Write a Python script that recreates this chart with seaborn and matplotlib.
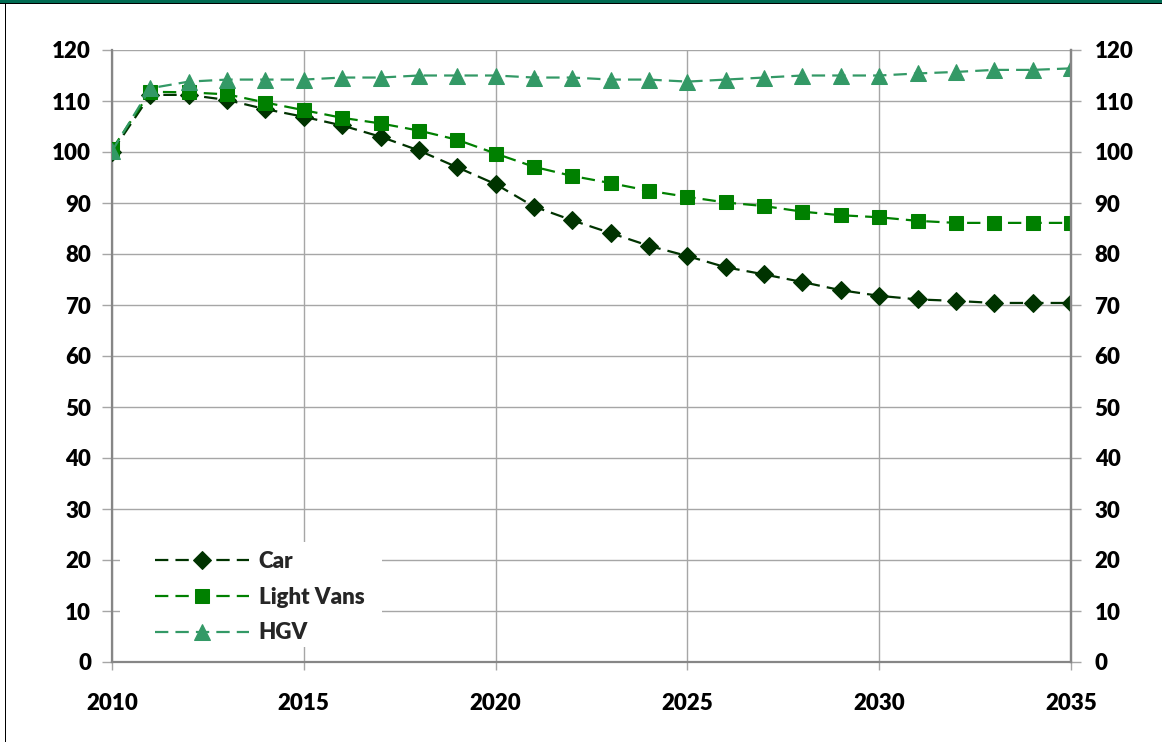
import matplotlib
matplotlib.use("Agg")
import matplotlib.pyplot as plt
from matplotlib.patches import Rectangle
import seaborn as sns
import pandas as pd

# Index values (2010 = 100) by vehicle type
years = list(range(2010, 2036))
car = [100.0, 111.2, 111.2, 110.2, 108.4, 106.9, 105.2, 103.0, 100.3, 97.0,
       93.7, 89.3, 86.6, 84.1, 81.6, 79.6, 77.4, 76.0, 74.5, 72.9,
       71.8, 71.1, 70.8, 70.4, 70.4, 70.4]
light_vans = [100.5, 111.8, 111.7, 111.3, 109.7, 108.2, 106.7, 105.6, 104.2, 102.4,
              99.7, 97.1, 95.3, 93.9, 92.4, 91.2, 90.1, 89.4, 88.3, 87.6,
              87.2, 86.5, 86.1, 86.1, 86.1, 86.1]
hgv = [100.2, 112.5, 113.8, 114.2, 114.2, 114.2, 114.6, 114.6, 115.0, 115.0,
       115.0, 114.6, 114.6, 114.2, 114.2, 113.8, 114.2, 114.6, 115.0, 115.0,
       115.0, 115.4, 115.7, 116.1, 116.1, 116.4]

series_names = ["Car", "Light Vans", "HGV"]
series_values = [car, light_vans, hgv]
series_colors = ["#003300", "#008000", "#339966"]
series_markers = ["D", "s", "^"]
series_msize = [9.5, 10.5, 11.5]

y_ticks = list(range(0, 121, 10))
x_ticks = list(range(2010, 2036, 5))

sns.set_theme(style="white")
plt.rcParams["font.family"] = ["Lato", "DejaVu Sans"]

FS = 16
FW = "heavy"

W, H = 1162, 742
fig = plt.figure(figsize=(W / 100, H / 100), dpi=100)
fig.patch.set_facecolor("white")

# Plot area in pixel terms
left_px, right_px, top_px, bottom_px = 112, 1071, 50, 662
ax = fig.add_axes([left_px / W, 1 - bottom_px / H,
                   (right_px - left_px) / W, (bottom_px - top_px) / H])

df = pd.DataFrame({"year": years})
for name, vals, col, mk, ms in zip(series_names, series_values, series_colors,
                                   series_markers, series_msize):
    df[name] = vals
    sns.lineplot(data=df, x="year", y=name, ax=ax, color=col, marker=mk,
                 markersize=ms, markeredgecolor=col, markerfacecolor=col,
                 linewidth=1.6, dashes=False, label=name, zorder=3)
    ax.lines[-1].set_dashes((6, 3.2))

ax.set_xlim(2010, 2035)
ax.set_ylim(0, 120)
ax.set_xticks(x_ticks)
ax.set_yticks(y_ticks)
ax.set_xlabel("")
ax.set_ylabel("")

grid_col = "#a6a6a6"
spine_col = "#868686"
ax.grid(True, color=grid_col, linewidth=1.0)
ax.set_axisbelow(True)
for s in ["left", "bottom", "right"]:
    ax.spines[s].set_color(spine_col)
    ax.spines[s].set_linewidth(1.6)
ax.spines["top"].set_visible(False)

ax.tick_params(axis="y", which="major", left=True, direction="out", length=7,
               width=1.0, color=grid_col, pad=8, labelsize=FS, labelcolor="black")
ax.tick_params(axis="x", which="major", bottom=True, direction="out", length=6,
               width=1.0, color=grid_col, pad=16, labelsize=FS, labelcolor="black")
for lab in ax.get_xticklabels() + ax.get_yticklabels():
    lab.set_fontweight(FW)

ax2 = ax.twinx()
ax2.set_ylim(0, 120)
ax2.set_yticks(y_ticks)
ax2.tick_params(axis="y", right=True, direction="out", length=7, width=1.0,
                color=grid_col, pad=10, labelsize=FS, labelcolor="black")
for lab in ax2.get_yticklabels():
    lab.set_fontweight(FW)
for s in ["left", "bottom", "top"]:
    ax2.spines[s].set_visible(False)
ax2.spines["right"].set_color(spine_col)
ax2.spines["right"].set_linewidth(1.6)
ax2.grid(False)

# White panel behind the legend
ax.add_patch(Rectangle((0.0083, 0.0245), 0.273, 0.172, transform=ax.transAxes,
                       facecolor="white", edgecolor="none", zorder=2.5))
leg = ax.legend(loc="lower left", bbox_to_anchor=(0.036, 0.016), frameon=False,
                handlelength=4.2, handletextpad=0.45, labelspacing=0.66,
                borderaxespad=0, prop={"weight": FW, "size": FS})
leg.set_zorder(4)
for h in leg.get_lines():
    h.set_dashes((6, 3.2))

# Figure frame: teal top band and dark left edge
fig.add_artist(Rectangle((0, 1 - 3 / H), 1, 3 / H, transform=fig.transFigure,
                         facecolor="#006b52", edgecolor="none"))
fig.add_artist(Rectangle((0, 1 - 4.2 / H), 1, 1.2 / H, transform=fig.transFigure,
                         facecolor="black", edgecolor="none"))
fig.add_artist(Rectangle((4.5 / W, 0), 1.5 / W, 1 - 3 / H, transform=fig.transFigure,
                         facecolor="black", edgecolor="none"))

fig.savefig("out.png", dpi=100, facecolor="white")
